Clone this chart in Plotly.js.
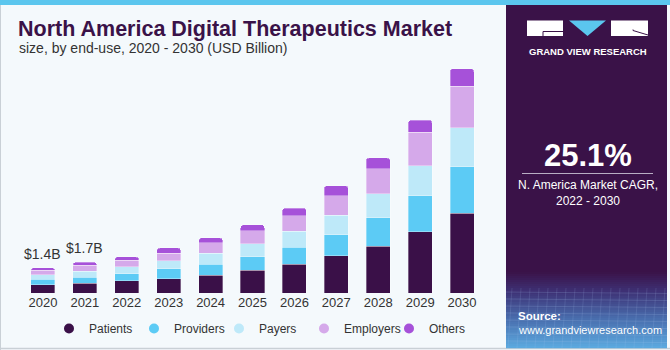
<!DOCTYPE html>
<html>
<head>
<meta charset="utf-8">
<script src="https://cdn.plot.ly/plotly-3.0.1.min.js"></script>
<style>
html,body{margin:0;padding:0;background:#f4f9fc;}
#chart{width:670px;height:350px;}
</style>
</head>
<body>
<div id="chart"></div>
<script>
// ---- data ----
const years = ['2020','2021','2022','2023','2024','2025','2026','2027','2028','2029','2030'];
const patients  = [0.45,0.54,0.67,0.79,0.98,1.26,1.61,2.07,2.61,3.41,4.42];
const providers = [0.31,0.34,0.41,0.56,0.63,0.74,0.92,1.17,1.56,2.00,2.58];
const payers    = [0.25,0.34,0.37,0.44,0.61,0.74,0.89,1.07,1.35,1.67,2.17];
const employers = [0.26,0.32,0.37,0.43,0.56,0.71,0.87,1.09,1.37,1.85,2.31];
const others    = [0.13,0.16,0.19,0.28,0.28,0.33,0.43,0.56,0.61,0.67,0.97];
const seriesNames = ['Patients','Providers','Payers','Employers','Others'];
const totalLabels = ['$1.4B','$1.7B'];
const cagrText = '25.1%';
const cagrCaption = 'N. America Market CAGR,<br>2022 - 2030';

// ---- styles ----
const colors = ['#3a1048','#5ccbf5','#bee9f9','#d5a9ea','#a651d9'];
const FONT = 'Liberation Sans, Arial, sans-serif';
const L = 22, T = 60, W = 461, H = 233;
const px = x => (x - L) / W;
const py = y => (T + H - y) / H;

const seriesValues = [patients, providers, payers, employers, others];
const traces = [];
seriesValues.forEach((vals, i) => {
  traces.push({
    type: 'bar', x: years, y: vals, name: seriesNames[i],
    marker: {color: colors[i], line: {width: 0.6, color: 'rgba(255,255,255,0.55)'}},
    showlegend: false, hoverinfo: 'skip'
  });
});
seriesNames.forEach((n, i) => {
  traces.push({
    type: 'scatter', mode: 'markers', x: [years[0]], y: [null], name: n,
    marker: {color: colors[i], size: 10, symbol: 'circle'},
    showlegend: true, hoverinfo: 'skip'
  });
});

const totals = years.map((_, i) => seriesValues.reduce((s, a) => s + a[i], 0));

const shapes = [];
const annotations = [];

// top stripe and borders
shapes.push({type:'rect', xref:'paper', yref:'paper', x0:px(0), x1:px(670), y0:py(0), y1:py(5), fillcolor:'#5bc6ee', line:{width:0}});
shapes.push({type:'line', xref:'paper', yref:'paper', x0:px(0.5), x1:px(0.5), y0:py(5), y1:py(350), line:{color:'#c9d0d6', width:1}});
shapes.push({type:'line', xref:'paper', yref:'paper', x0:px(0), x1:px(670), y0:py(348.5), y1:py(348.5), line:{color:'#c9d0d6', width:1.5}});

// right panel
const P0 = 506, P1 = 667;
shapes.push({type:'rect', xref:'paper', yref:'paper', x0:px(P0), x1:px(P1), y0:py(5), y1:py(348), fillcolor:'#3a1248', line:{width:0}});
const stops = [[272,[58,18,72]],[292,[62,50,118]],[318,[72,108,172]],[348,[92,170,224]]];
function lerpColor(y){
  for (let k = 0; k < stops.length - 1; k++) {
    const a = stops[k], b = stops[k+1];
    if (y >= a[0] && y <= b[0]) {
      const t = (y - a[0]) / (b[0] - a[0]);
      const c = a[1].map((v, j) => Math.round(v + (b[1][j] - v) * t));
      return 'rgb(' + c.join(',') + ')';
    }
  }
  return 'rgb(58,18,72)';
}
for (let y = 272; y < 348; y += 2) {
  shapes.push({type:'rect', xref:'paper', yref:'paper', x0:px(P0), x1:px(P1), y0:py(y), y1:py(y+2.2), fillcolor:lerpColor(y+1), line:{width:0}});
}
for (let y = 292; y < 348; y += 7) {
  shapes.push({type:'line', xref:'paper', yref:'paper', x0:px(P0), x1:px(P1), y0:py(y), y1:py(y+1.5), line:{color:'rgba(170,200,240,0.18)', width:1}});
}
for (let x = P0 + 6; x < P1; x += 9) {
  shapes.push({type:'line', xref:'paper', yref:'paper', x0:px(x), x1:px(x - 4), y0:py(288), y1:py(348), line:{color:'rgba(170,200,240,0.14)', width:1}});
}

// logo
shapes.push({type:'rect', xref:'paper', yref:'paper', x0:px(527), x1:px(563), y0:py(20.5), y1:py(36), fillcolor:'#ffffff', line:{width:0}});
shapes.push({type:'path', xref:'paper', yref:'paper',
  path:'M '+px(543)+' '+py(36)+' L '+px(543)+' '+py(31.5)+' L '+px(563)+' '+py(31.5),
  line:{color:'#3a1248', width:1}});
shapes.push({type:'path', xref:'paper', yref:'paper',
  path:'M '+px(569)+' '+py(20.5)+' L '+px(606)+' '+py(20.5)+' L '+px(587.5)+' '+py(36)+' Z',
  fillcolor:'#5bc6ee', line:{width:0}});
shapes.push({type:'rect', xref:'paper', yref:'paper', x0:px(611), x1:px(648), y0:py(20.5), y1:py(36), fillcolor:'#ffffff', line:{width:0}});
shapes.push({type:'path', xref:'paper', yref:'paper',
  path:'M '+px(633)+' '+py(30.5)+' L '+px(648)+' '+py(35)+' M '+px(633)+' '+py(30.5)+' L '+px(633)+' '+py(29.5),
  line:{color:'#3a1248', width:1}});
annotations.push({xref:'paper', yref:'paper', x:px(587.5), y:py(51), xanchor:'center', yanchor:'middle', showarrow:false,
  text:'<b>GRAND VIEW RESEARCH</b>', font:{family:FONT, size:9.5, color:'#ffffff'}});

// CAGR block
annotations.push({xref:'paper', yref:'paper', x:px(588), y:py(155), xanchor:'center', yanchor:'middle', showarrow:false,
  text:'<b>'+cagrText+'</b>', font:{family:FONT, size:31, color:'#ffffff'}});
shapes.push({type:'line', xref:'paper', yref:'paper', x0:px(522), x1:px(653), y0:py(173.5), y1:py(173.5), line:{color:'#b9aec4', width:1}});
annotations.push({xref:'paper', yref:'paper', x:px(588), y:py(193), xanchor:'center', yanchor:'middle', showarrow:false,
  text:cagrCaption, font:{family:FONT, size:12, color:'#ffffff'}});

// source
annotations.push({xref:'paper', yref:'paper', x:px(516), y:py(316), xanchor:'left', yanchor:'middle', showarrow:false,
  text:'<b>Source:</b>', font:{family:FONT, size:11.5, color:'#ffffff'}});
annotations.push({xref:'paper', yref:'paper', x:px(516), y:py(330), xanchor:'left', yanchor:'middle', showarrow:false,
  text:'www.grandviewresearch.com', font:{family:FONT, size:11, color:'#ffffff'}});

// subtitle
annotations.push({xref:'paper', yref:'paper', x:px(17), y:py(48), xanchor:'left', yanchor:'middle', showarrow:false,
  text:'size, by end-use, 2020 - 2030 (USD Billion)', font:{family:FONT, size:14, color:'#333333'}});

// total labels (category index on the x axis)
totalLabels.forEach((t, i) => {
  annotations.push({x:i, y:totals[i], xref:'x', yref:'y', xanchor:'center', yanchor:'bottom', yshift:4,
    showarrow:false, text:t, font:{family:FONT, size:14, color:'#333333'}});
});

const layout = {
  width: 670, height: 350,
  margin: {l: L, r: 670 - L - W, t: T, b: 350 - T - H, pad: 0, autoexpand: false},
  paper_bgcolor: '#f4f9fc', plot_bgcolor: '#f4f9fc',
  barmode: 'stack', bargap: 0.427, barcornerradius: 3,
  title: {text: '<b>North America Digital Therapeutics Market</b>', x: 18/670, xanchor: 'left', xref: 'container',
          y: 1 - 28/350, yanchor: 'middle', yref: 'container',
          font: {family: FONT, size: 21.5, color: '#3a1248'}},
  xaxis: {type: 'category', categoryorder: 'array', categoryarray: years, range: [-0.5, 10.5],
          showgrid: false, zeroline: false, showline: false, ticks: '',
          tickfont: {family: FONT, size: 13, color: '#333333'}, fixedrange: true},
  yaxis: {range: [0, 12.94], visible: false, showgrid: false, zeroline: false, fixedrange: true},
  legend: {orientation: 'h', x: px(49), y: py(314), xanchor: 'left', yanchor: 'top',
           entrywidth: 40, entrywidthmode: 'pixels',
           font: {family: FONT, size: 12, color: '#333333'}, bgcolor: 'rgba(0,0,0,0)', traceorder: 'normal',
           itemclick: false, itemdoubleclick: false},
  shapes: shapes,
  annotations: annotations,
  showlegend: true
};

Plotly.newPlot('chart', traces, layout, {displayModeBar: false, staticPlot: true});
</script>
</body>
</html>
